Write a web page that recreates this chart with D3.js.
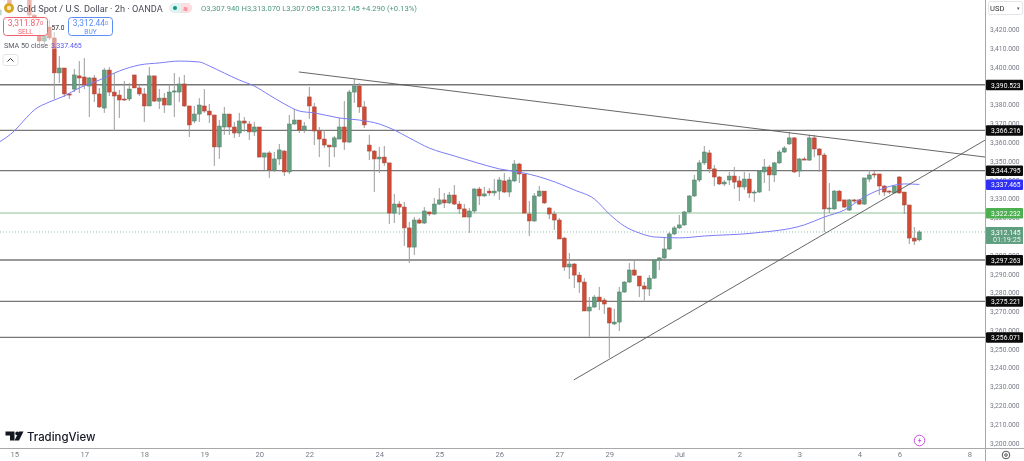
<!DOCTYPE html>
<html>
<head>
<meta charset="utf-8">
<script src="https://cdn.jsdelivr.net/npm/d3@7"></script>
<style>
  body { margin: 0; background: #fff; overflow: hidden; }
  svg { filter: blur(0.3px); }
  text { font-family: Roboto, sans-serif; }
  .pricetick text { fill: #787b86; font-size: 7.6px; }
  .timetick text { fill: #787b86; font-size: 7.6px; }
</style>
</head>
<body>
<div id="chart"></div>
<script>
// bar index of the first candle, bars are numbered from the one under "SMA 50 close"
var firstBar = -11

var opens = [
  3427.6,3441,3438.3,3437,3440,3438,3438.3,3427.6,3416.4,3413.8,3421.2,
  3415.4,3396.8,3399.4,3385.6,3388.2,3395.2,3394.6,3389.8,3394.1,3385.6,
  3378.1,3398.3,3386.6,3385,3382.9,3382.9,3395.7,3388.8,3385.6,3379.2,
  3395.2,3381.8,3383.4,3379.7,3386.6,3386.6,3390.9,3379.2,3371.2,3374.9,
  3379.2,3376.5,3374.4,3357.4,3368,3374.9,3368,3364.8,3371.2,3369.6,
  3365.4,3368,3352,3354.2,3345.1,3351,3355.2,3344.1,3369.6,3371.7,
  3366.4,3384,3378.7,3365.9,3361.6,3358.4,3357.4,3361.6,3368,3360,
  3386.6,3389.8,3378.7,3358.4,3355.2,3351,3352,3348.9,3322.2,3327,
  3325.4,3314.3,3304.1,3318.5,3316.9,3322.8,3321.7,3327,3329.2,3327.6,
  3331.8,3327,3324.4,3320.1,3323.3,3335,3331.3,3333.9,3332.9,3333.9,
  3339.3,3333.4,3339.3,3348.3,3343,3321.7,3318,3331.3,3333.9,3324.9,
  3321.7,3318.5,3308.9,3293.5,3295.1,3289.2,3285.5,3270.1,3272.2,3277.5,
  3275.9,3271.7,3263.2,3264.2,3280.2,3285.5,3291.9,3288.7,3283.4,3281.8,
  3287.6,3297.2,3298.3,3303.1,3311.1,3314.3,3315.9,3322.8,3331.3,3339.8,
  3348.9,3354.2,3345.7,3341.4,3337.7,3339.8,3341.9,3339.3,3336.1,3340.3,
  3332.9,3333.4,3344.1,3346.7,3342.5,3348.9,3354.7,3359,3362.2,3344.6,
  3351,3350.4,3362.2,3356.3,3353.1,3324.4,3324.4,3333.9,3329.2,3323.8,
  3329.2,3329.2,3327,3340.3,3343,3343,3336.6,3333.9,3332.9,3341.4,
  3333.4,3326.5,3308.9,3307.94
]
var highs = [
  3433,3443,3441,3444,3446,3447,3445,3428,3422.3,3419.6,3425,
  3418.6,3405.8,3399.4,3386.1,3398.9,3403.1,3404.7,3394.6,3395.7,3388.8,
  3399.4,3399.9,3396.7,3387.7,3392.5,3391.4,3395.7,3390.4,3388.8,3399.9,
  3395.2,3388.2,3386.1,3390.4,3396.7,3394.6,3395.7,3379.2,3379.2,3383.4,
  3388.2,3380.3,3374.4,3371.7,3378.7,3374.9,3370.7,3375.5,3373.3,3371.2,
  3370.7,3368,3354.2,3355.2,3354.7,3359,3355.8,3374.4,3377.6,3371.7,
  3370.7,3389.3,3380.8,3368,3366.4,3358.4,3363.2,3372.8,3381.8,3387.7,
  3393.6,3391.4,3381.8,3363.8,3355.8,3357.4,3357.9,3348.9,3332.4,3328.6,
  3328.1,3317.5,3320.1,3319.6,3325.4,3322.8,3330.2,3335.5,3332.9,3333.4,
  3337.1,3328.6,3327,3324.9,3335.5,3336.1,3336.1,3335.5,3340.3,3341.4,
  3343.5,3341.4,3350.4,3348.9,3343,3328.6,3332.9,3336.6,3333.9,3325.4,
  3323.3,3319.6,3309.5,3301,3295.6,3290.8,3287.6,3277.5,3278.6,3282.9,
  3277,3272.2,3271.2,3282.9,3286,3295.6,3296.7,3288.7,3285.5,3289.2,
  3297.8,3298.8,3309.5,3312.1,3315.3,3321.2,3323.3,3331.8,3342.5,3350.4,
  3357.9,3355.8,3347.8,3341.9,3339.8,3344.1,3346.7,3341.9,3344.1,3343.5,
  3334.5,3345.1,3351,3347.8,3349.4,3355.8,3357.9,3365.4,3362.7,3351.5,
  3352,3363.8,3363.8,3356.8,3354.2,3338.2,3334.5,3334.5,3329.2,3329.7,
  3329.7,3329.7,3340.9,3345.1,3344.6,3343,3337.1,3334.5,3336.6,3341.9,
  3333.4,3326.5,3314.8,3313.07
]
var lows = [
  3425,3435,3432,3436,3436,3436,3423.9,3423,3411.7,3411.7,3414.3,
  3382.9,3391.4,3384,3382.9,3386.6,3386.1,3388.2,3373.3,3381.3,3378.1,
  3375.5,3384.5,3365.9,3372.8,3381.8,3381.8,3388.8,3384.5,3370.7,3379.2,
  3381.3,3377.6,3375.5,3379.7,3373.3,3381.3,3378.7,3362.7,3370.1,3370.7,
  3375.5,3370.1,3347.3,3351,3363.8,3363.8,3362.2,3362.7,3365.4,3361.1,
  3363.2,3352,3345.1,3340.9,3344.1,3347.8,3341.9,3343,3369.1,3364.8,
  3364.8,3372.3,3358.4,3352,3356.8,3346.7,3352,3361.6,3355.8,3359.5,
  3380.8,3375.5,3367.5,3350.4,3333.4,3343.5,3347.3,3316.4,3316.9,3321.2,
  3304.7,3295.6,3299.9,3316.4,3316.4,3320.6,3321.2,3326.5,3324.9,3327,
  3326.5,3321.7,3320.1,3311.6,3322.2,3326.5,3330.8,3331.3,3331.3,3329.2,
  3332.9,3330.8,3338.7,3338.2,3322.2,3310,3317.5,3330.8,3327,3319,
  3313.2,3308.4,3291.4,3287.1,3282.3,3279.7,3270.1,3256.3,3271.7,3270.6,
  3268.5,3245.1,3262.6,3259.4,3279.7,3285,3288.7,3277.5,3274.9,3278.1,
  3287.1,3291.9,3297.8,3302.5,3310.5,3313.7,3315.3,3322.2,3330.8,3338.7,
  3347.8,3343.5,3336.6,3337.1,3336.6,3337.1,3335,3328.6,3334.5,3330.2,
  3328.1,3332.9,3338.2,3333.9,3338.7,3348.3,3354.2,3358.4,3343.5,3341.4,
  3350.4,3349.9,3352,3344.1,3312.1,3322.2,3323.8,3328.6,3324.9,3323.3,
  3327.6,3326.5,3326.5,3338.7,3340.9,3331.8,3331.3,3332.4,3332.9,3332.4,
  3321.7,3305.7,3305.2,3307.095
]
var closes = [
  3430.3,3437,3434,3440,3438,3443,3427.6,3426,3413.8,3416.4,3415.4,
  3396.8,3399.4,3385.6,3385,3395.7,3394.1,3390.4,3394.1,3385.6,3378.7,
  3398.3,3386.6,3384.5,3382.4,3382.4,3388.2,3388.8,3385.6,3379.2,3395.2,
  3381.8,3383.4,3379.7,3386.6,3387.2,3390.9,3379.2,3369.1,3374.9,3379.7,
  3376.5,3374.4,3357.4,3368.5,3374.9,3368,3364.8,3371.2,3370.1,3365.4,
  3368,3352,3354.2,3345.1,3351,3355.8,3344.1,3369.6,3371.7,3366.4,
  3368.5,3379.2,3365.9,3361.6,3358.4,3357.4,3362.2,3368,3360,3386.6,
  3389.8,3378.7,3369.1,3355.2,3351,3352,3348.9,3322.2,3327,3325.4,
  3314.3,3304.1,3318.5,3316.9,3323.3,3321.7,3327,3329.2,3327.6,3331.8,
  3327,3324.4,3320.1,3323.3,3335,3331.3,3332.4,3332.9,3333.9,3339.8,
  3333.4,3339.8,3348.3,3343,3322.2,3318,3331.3,3333.9,3327.6,3321.7,
  3318.5,3308.4,3293.5,3295.1,3289.2,3285.5,3270.1,3272.2,3277.5,3275.4,
  3273.8,3263.7,3264.2,3280.2,3285.5,3291.9,3289.2,3283.4,3281.8,3287.6,
  3297.2,3298.3,3303.1,3311.1,3314.3,3315.9,3322.8,3331.3,3339.8,3348.9,
  3354.7,3345.7,3341.4,3337.7,3338.7,3341.9,3338.7,3336.1,3340.3,3332.9,
  3333.4,3344.6,3346.7,3342.5,3348.9,3354.7,3356.8,3362.2,3344.1,3351,
  3350.4,3362.2,3356.3,3353.1,3324.4,3324.9,3333.9,3328.6,3325.4,3329.2,
  3328.6,3327,3340.9,3342.5,3342.5,3336.6,3333.4,3333.4,3336.6,3332.9,
  3326.5,3308.9,3307.3,3312.145
]

// SMA 50 at these bars
var smaBars = [-11,-8,-6,-4,-1,2,5,9,13,17,21,25,29,31,34,37,40,43,46,49,52,57,61,65,68,71,75,80,84,89,94,99,104,108,111,114,117,120,125,130,140,150,154,158,162,166,170,173]
var smaValues = [3360,3365.9,3371.7,3377.1,3381.3,3384.5,3388.8,3393,3397.8,3401,3402.1,3403.1,3402.6,3400.5,3396.7,3393,3389.8,3385,3380.3,3376.5,3375.5,3372.8,3371.7,3369.6,3366.4,3362.2,3356.8,3352.6,3349.4,3345.7,3343.5,3339.8,3334.5,3329.7,3321.7,3315.3,3311.6,3309.5,3309,3310,3311.6,3315.9,3320.1,3323.8,3330.8,3335.5,3337.7,3337.465]

var levels = [3390.523, 3366.216, 3344.795, 3297.263, 3275.221, 3256.071]
var askLevel = 3322.232
var lastPrice = 3312.145
var smaLast = 3337.465

// trendlines as [bar, price] pairs
var fallingLine = [[48.9, 3397.3], [186.2, 3352]]
var risingLine = [[103.9, 3233.4], [186.2, 3361.1]]

// 3,310 sits fully behind the last price tag
var priceTicks = [3200,3210,3220,3230,3240,3250,3260,3270,3280,3290,3300,3320,3330,3340,3350,3360,3370,3380,3400,3410,3420]

var dayBars = [-8,6,18,30,41,51,65,77,89,101,111,125,137,149,161,169,183]
var dayLabels = ["15","17","18","19","20","22","24","25","26","27","29","Jul","2","3","4","6","8"]

var width = 1024,
    height = 461,
    paneW = 985,
    paneH = 448

var x = d3.scaleLinear().domain([0, 173]).range([54.3, 919.3])
var y = d3.scaleLinear().domain([3200, 3420]).range([442.7, 29.3])

var up = "#659f82", upEdge = "#4b7d65",
    down = "#d04a35", downEdge = "#a5493b"

var bars = opens.map(function(o, k) {
  return {bar: firstBar + k, o: o, h: highs[k], l: lows[k], c: closes[k]}
})

var svg = d3.select("#chart").append("svg")
    .attr("width", width)
    .attr("height", height)
    .style("display", "block")

svg.append("clipPath").attr("id", "pane")
  .append("rect").attr("width", paneW).attr("height", paneH)

var pane = svg.append("g").attr("clip-path", "url(#pane)")

// horizontal levels
pane.selectAll("line.level")
    .data(levels)
  .enter().append("line")
    .attr("class", "level")
    .attr("x1", 0).attr("x2", paneW)
    .attr("y1", function(d) { return y(d) }).attr("y2", function(d) { return y(d) })
    .attr("stroke", "#777")
    .attr("stroke-width", 1.4)

pane.append("line")
    .attr("x1", 0).attr("x2", paneW)
    .attr("y1", y(askLevel)).attr("y2", y(askLevel))
    .attr("stroke", "#8cc49a")

pane.append("line")
    .attr("x1", 0).attr("x2", paneW)
    .attr("y1", y(lastPrice)).attr("y2", y(lastPrice))
    .attr("stroke", "#8cc4a8")
    .attr("stroke-dasharray", "1,2")

// candles
var candle = pane.selectAll("g.candle")
    .data(bars)
  .enter().append("g")
    .attr("class", "candle")

candle.append("line")
    .attr("x1", function(d) { return x(d.bar) }).attr("x2", function(d) { return x(d.bar) })
    .attr("y1", function(d) { return y(d.h) }).attr("y2", function(d) { return y(d.l) })
    .attr("stroke", "#9b9b9b")

candle.append("rect")
    .attr("x", function(d) { return x(d.bar) - 1.9 })
    .attr("width", 3.8)
    .attr("y", function(d) { return y(Math.max(d.o, d.c)) })
    .attr("height", function(d) { return Math.max(1, Math.abs(y(d.o) - y(d.c))) })
    .attr("fill", function(d) { return d.c >= d.o ? up : down })
    .attr("stroke", function(d) { return d.c >= d.o ? upEdge : downEdge })
    .attr("stroke-width", 0.5)

// SMA
var smaLine = d3.line()
    .x(function(d) { return x(d[0]) })
    .y(function(d) { return y(d[1]) })
    .curve(d3.curveMonotoneX)

pane.append("path")
    .datum(d3.zip(smaBars, smaValues))
    .attr("d", smaLine)
    .attr("fill", "none")
    .attr("stroke", "#7b7bf5")
    .attr("stroke-width", 1)

// trendlines
var straight = d3.line()
    .x(function(d) { return x(d[0]) })
    .y(function(d) { return y(d[1]) })

pane.selectAll("path.trend")
    .data([fallingLine, risingLine])
  .enter().append("path")
    .attr("class", "trend")
    .attr("d", straight)
    .attr("fill", "none")
    .attr("stroke", "#555")
    .attr("stroke-width", 0.9)

// axes
var priceAxis = d3.axisRight(y)
    .tickValues(priceTicks)
    .tickFormat(d3.format(",.3f"))
    .tickSize(0)
    .tickPadding(5)

svg.append("g")
    .attr("class", "pricetick")
    .attr("transform", "translate(" + paneW + ",0)")
    .call(priceAxis)
    .call(function(g) {
      g.select(".domain").remove()
      g.selectAll("text").attr("textLength", 29.5).attr("lengthAdjust", "spacingAndGlyphs")
    })

var timeAxis = d3.axisBottom(x)
    .tickValues(dayBars)
    .tickFormat(function(d, i) { return dayLabels[i] })
    .tickSize(0)
    .tickPadding(4)

svg.append("g")
    .attr("class", "timetick")
    .attr("transform", "translate(0," + paneH + ")")
    .call(timeAxis)
    .call(function(g) { g.select(".domain").remove() })

svg.append("line").attr("x1", paneW + 0.5).attr("x2", paneW + 0.5)
    .attr("y1", 0).attr("y2", height).attr("stroke", "#a8a8a8")
svg.append("line").attr("x1", 0).attr("x2", width)
    .attr("y1", paneH + 0.5).attr("y2", paneH + 0.5).attr("stroke", "#a8a8a8")

// price tags
function tag(value, fill) {
  var g = svg.append("g").attr("transform", "translate(986," + y(value) + ")")
  g.append("rect").attr("y", -5).attr("width", 37).attr("height", 10.5).attr("rx", 1).attr("fill", fill)
  g.append("text").attr("x", 5).attr("y", 2.8).attr("fill", "#fff").attr("font-size", 7.6)
    .attr("textLength", 29.5).attr("lengthAdjust", "spacingAndGlyphs")
    .text(d3.format(",.3f")(value))
}
levels.forEach(function(d) { tag(d, "#0b0b0b") })
tag(smaLast, "#2f2ff5")
tag(askLevel, "#4caf50")

var lastTag = svg.append("g").attr("transform", "translate(986," + y(lastPrice) + ")")
lastTag.append("rect").attr("y", -5).attr("width", 37).attr("height", 17).attr("fill", "#5f9f80")
lastTag.append("text").attr("x", 5).attr("y", 2.8).attr("fill", "#fff").attr("font-size", 7.6)
  .attr("textLength", 29.5).attr("lengthAdjust", "spacingAndGlyphs")
  .text(d3.format(",.3f")(lastPrice))
lastTag.append("text").attr("x", 7).attr("y", 10.5).attr("fill", "#e6f2ec").attr("font-size", 7.2)
  .text("01:19:25")

// currency box
svg.append("rect").attr("x", 988.5).attr("y", 1.5).attr("width", 34).attr("height", 13).attr("rx", 2)
  .attr("fill", "#fff").attr("stroke", "#e4e5e9")
svg.append("text").attr("x", 990).attr("y", 11).attr("font-size", 7.6).attr("fill", "#333").text("USD")
svg.append("text").attr("x", 1017).attr("y", 10).attr("font-size", 5).attr("fill", "#555").text("▾")

// legend, candles show faintly through it
svg.append("rect").attr("width", 166).attr("height", 16).attr("fill", "#fff").attr("opacity", 0.6)
svg.append("rect").attr("y", 16).attr("width", 114).attr("height", 22).attr("fill", "#fff").attr("opacity", 0.5)
svg.append("rect").attr("y", 38).attr("width", 86).attr("height", 11).attr("fill", "#fff").attr("opacity", 0.45)

svg.append("circle").attr("cx", 9).attr("cy", 8).attr("r", 5).attr("fill", "#d9a520")
svg.append("circle").attr("cx", 9).attr("cy", 8).attr("r", 2.2).attr("fill", "#f6e7b4")
svg.append("text").attr("x", 17).attr("y", 11.5).attr("font-size", 9.2).attr("fill", "#4a4d57")
  .text("Gold Spot / U.S. Dollar · 2h · OANDA")

svg.append("rect").attr("x", 169).attr("y", 3).attr("width", 23).attr("height", 10).attr("rx", 5).attr("fill", "#e1f1ee")
svg.append("path").attr("d", "M181,3h6a5,5 0 0 1 0,10h-6z").attr("fill", "#fbdde2")
svg.append("circle").attr("cx", 175).attr("cy", 8).attr("r", 2).attr("fill", "#089981")
svg.append("text").attr("x", 183).attr("y", 10.5).attr("font-size", 6).attr("fill", "#f23645").text("≋")

var ohlc = svg.append("text").attr("x", 201).attr("y", 11).attr("font-size", 7.6).attr("fill", "#4f9a7c")
ohlc.append("tspan").text("O3,307.940 H3,313.070 L3,307.095 C3,312.145 +4.290 (+0.13%)")

function quoteBox(bx, stroke, price, sup, label) {
  svg.append("rect").attr("x", bx + 0.5).attr("y", 17.5).attr("width", 44).attr("height", 18).attr("rx", 3)
    .attr("fill", "#fff").attr("fill-opacity", 0.75).attr("stroke", stroke)
  var t = svg.append("text").attr("x", bx + 22.5).attr("y", 26).attr("text-anchor", "middle")
    .attr("font-size", 8.4).attr("fill", stroke)
  t.append("tspan").text(price)
  t.append("tspan").attr("font-size", 5.6).attr("dy", -1.5).text(sup)
  svg.append("text").attr("x", bx + 22.5).attr("y", 33.5).attr("text-anchor", "middle")
    .attr("font-size", 6.6).attr("fill", stroke).text(label)
}
quoteBox(3, "#f0606c", "3,311.87", "0", "SELL")
quoteBox(68, "#5b8df5", "3,312.44", "0", "BUY")
svg.append("text").attr("x", 58).attr("y", 29.5).attr("text-anchor", "middle")
  .attr("font-size", 6.6).attr("fill", "#222").text("57.0")

svg.append("text").attr("x", 4).attr("y", 48).attr("font-size", 7.2).attr("fill", "#5a5d68").text("SMA 50 close")
svg.append("text").attr("x", 51).attr("y", 48).attr("font-size", 7).attr("fill", "#5555f0").text("3,337.465")

svg.append("rect").attr("x", 3).attr("y", 54.5).attr("width", 15).attr("height", 11).attr("rx", 2)
  .attr("fill", "#fff").attr("stroke", "#e3e4e8")
svg.append("path").attr("d", "M7.5,61.5 L10.5,58.5 L13.5,61.5").attr("fill", "none").attr("stroke", "#333")

// logo
var logo = svg.append("g").attr("fill", "#131722")
logo.append("path").attr("d", "M5.5,431.5H14.5V440.5H10V435.5H5.5Z")
logo.append("circle").attr("cx", 17.2).attr("cy", 433.4).attr("r", 1.9)
logo.append("path").attr("d", "M14.5,440.5L19,431.5H23.5L19,440.5Z")
svg.append("text").attr("x", 27).attr("y", 440.5).attr("font-weight", 500)
  .attr("font-size", 11.4).attr("fill", "#131722").style("font-family", "Inter").text("TradingView")

// lightning badge and settings
svg.append("circle").attr("cx", 919.5).attr("cy", 440.5).attr("r", 5.3).attr("fill", "#fff")
  .attr("stroke", "#c44fd8").attr("stroke-width", 1)
svg.append("path").attr("d", "M920.6,437.2L917.8,441H919.6L918.6,443.8L921.4,440H919.6Z").attr("fill", "#c44fd8")
svg.append("circle").attr("cx", 1006).attr("cy", 455).attr("r", 3.8).attr("fill", "none").attr("stroke", "#555")
svg.append("circle").attr("cx", 1006).attr("cy", 455).attr("r", 1.3).attr("fill", "none").attr("stroke", "#555")
</script>
</body>
</html>
